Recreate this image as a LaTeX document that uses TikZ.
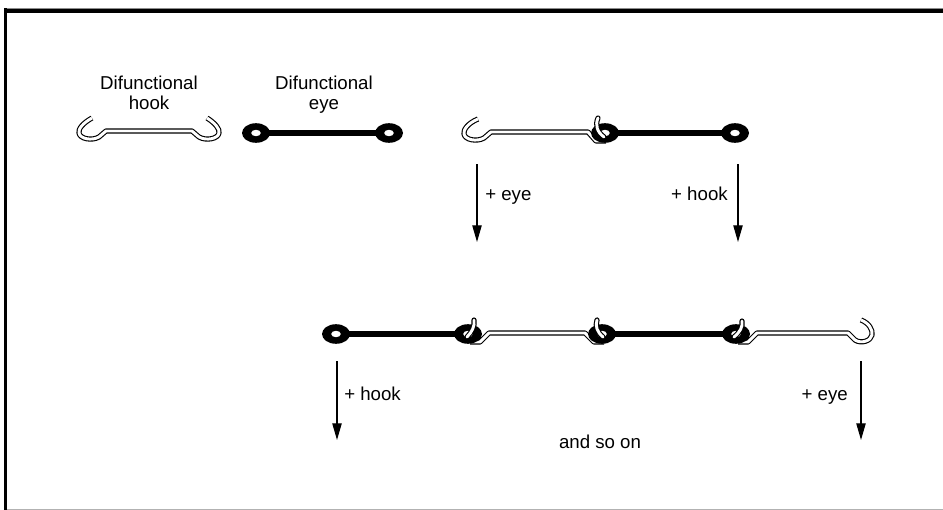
\documentclass[tikz,border=0pt]{standalone}
\usepackage{fontspec}
\setmainfont{Liberation Sans}
\usetikzlibrary{arrows.meta}

\tikzset{
  wire/.style={line width=0.85pt, double=white, double distance=2.2pt, line join=round},
  rod/.style={line width=4.5pt},
  drop/.style={-{Triangle[length=12.5pt,width=7pt]}, line width=0.9pt},
  lbl/.style={font=\fontsize{14}{15}\selectfont, inner sep=0pt}
}

\begin{document}
\begin{tikzpicture}[x=0.75pt, y=-0.75pt]
  \useasboundingbox (0,0) rectangle (943,510);
  % frame
  \draw [black!45, line width=0.75pt] (4,8.3) -- (943,8.3);
  \draw [black!30, line width=0.75pt] (7,509.3) -- (943,509.3);
  \fill [black] (4,9) rectangle (943,13.3);
  \fill [black] (4,8) rectangle (7,510);

  \coordinate (e1) at (256,133);
  \coordinate (e2) at (389,133);
  \coordinate (e3) at (605,133);
  \coordinate (e4) at (735,133);
  \coordinate (e5) at (336,334);
  \coordinate (e6) at (468,334);
  \coordinate (e7) at (602,334);
  \coordinate (e8) at (736,334);

  % hooks
  \draw [wire] (92,118) .. controls (83,123) and (78,129) .. (79,133) .. controls (80,139) and (92,141) .. (99,137)
    -- (106,131) -- (192,131) -- (199,137) .. controls (206,141) and (218,139) .. (219,133)
    .. controls (220,129) and (215,123) .. (207,118);
  \draw [wire] (478,119) .. controls (468,123) and (463,130) .. (464,134) .. controls (465,140) and (477,142) .. (484,138)
    -- (491,132) -- (588,132) -- (596,141) -- (606,141);
  \draw [wire] (470,342) -- (480,342) -- (489,333) -- (585,333) -- (594,342) -- (604,342);
  \draw [wire] (738,342) -- (748,342) -- (757,333) -- (848,333) -- (855,340)
    .. controls (861,344) and (871,341) .. (872,335) .. controls (873,330) and (869,323) .. (861,320);

  % eyes
  \draw [rod] (e1) -- (e2);
  \draw [rod] (e3) -- (e4);
  \draw [rod] (e5) -- (e6);
  \draw [rod] (e7) -- (e8);
  \foreach \e in {e1,e2,e3,e4,e5,e6,e7,e8} {
    \fill [black] (\e) ellipse (14 and 9.8);
    \fill [white] (\e) ellipse (4.8 and 3.2);
  }

  % hook tips through the eyes
  \draw [wire, line cap=round] (604,137) .. controls (597,132) and (595,125) .. (598,118);
  \draw [wire, line cap=round] (467,337) .. controls (472,332) and (475,326) .. (474,320);
  \draw [wire, line cap=round] (603,337) .. controls (597,332) and (595,326) .. (597,320);
  \draw [wire, line cap=round] (734,337) .. controls (740,332) and (743,327) .. (742,321);

  \node [lbl, align=center, anchor=base] (hooklbl) at (149,109) {Difunctional\\hook};
  \node [lbl, align=center, anchor=base] (eyelbl) at (324,109) {Difunctional\\eye};

  \coordinate (a1) at (477,164);
  \coordinate (b1) at (477,242);
  \coordinate (a2) at (738,164);
  \coordinate (b2) at (738,242);
  \coordinate (a3) at (337,361);
  \coordinate (b3) at (337,440);
  \coordinate (a4) at (861,361);
  \coordinate (b4) at (861,440);
  \draw [drop] (a1) -- (b1);
  \draw [drop] (a2) -- (b2);
  \draw [drop] (a3) -- (b3);
  \draw [drop] (a4) -- (b4);

  \node [lbl, anchor=base west] (addeye1) at (485,200) {+ eye};
  \node [lbl, anchor=base east] (addhook1) at (728,200) {+ hook};
  \node [lbl, anchor=base west] (addhook2) at (344,400) {+ hook};
  \node [lbl, anchor=base east] (addeye2) at (848,400) {+ eye};
  \node [lbl, anchor=base] (more) at (600,448) {and so on};
\end{tikzpicture}
\end{document}
